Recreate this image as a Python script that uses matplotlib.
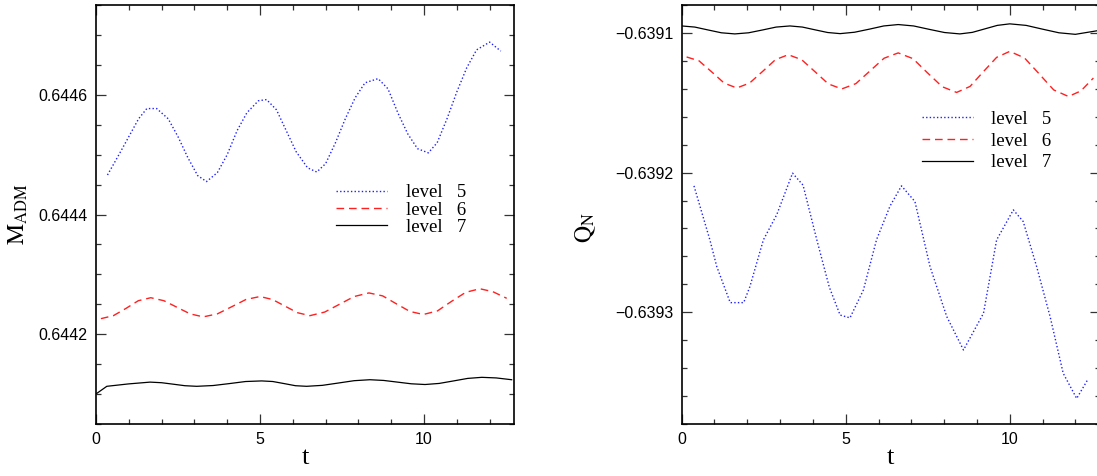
import numpy as np
import matplotlib
matplotlib.use('Agg')
import matplotlib.pyplot as plt
from matplotlib.ticker import MultipleLocator, FuncFormatter

# ---- data ----
# left panel: M_ADM vs t
t_m5 = [0.35, 0.7, 1.0, 1.3, 1.55, 1.85, 2.2, 2.5, 2.8, 3.1, 3.37, 3.7, 4.0, 4.3, 4.6,
        4.95, 5.2, 5.5, 5.8, 6.1, 6.45, 6.73, 7.0, 7.3, 7.6, 7.9, 8.2, 8.6, 8.9, 9.2,
        9.5, 9.8, 10.13, 10.4, 10.7, 11.0, 11.3, 11.6, 12.0, 12.34]
m5 = [0.644466, 0.644500, 0.644530, 0.644560, 0.644577, 0.644577, 0.644560, 0.644530,
      0.644495, 0.644465, 0.644455, 0.644470, 0.644500, 0.644540, 0.644570, 0.644590,
      0.644592, 0.644575, 0.644540, 0.644505, 0.644478, 0.644471, 0.644485, 0.644520,
      0.644560, 0.644595, 0.644620, 0.644627, 0.644610, 0.644570, 0.644535, 0.644510,
      0.644503, 0.644520, 0.644560, 0.644605, 0.644645, 0.644675, 0.644688, 0.644673]

t_m6 = [0.15, 0.53, 0.91, 1.29, 1.67, 2.07, 2.47, 2.87, 3.27, 3.70, 4.14, 4.57, 5.0,
        5.38, 5.76, 6.14, 6.52, 6.97, 7.42, 7.87, 8.32, 8.74, 9.15, 9.57, 9.98, 10.41,
        10.84, 11.27, 11.7, 12.1, 12.52]
m6 = [0.644226, 0.644231, 0.644243, 0.644256, 0.644261, 0.644256, 0.644245, 0.644234,
      0.644229, 0.644234, 0.644246, 0.644258, 0.644263, 0.644258, 0.644247, 0.644236,
      0.644231, 0.644237, 0.644250, 0.644263, 0.644269, 0.644264, 0.644251, 0.644238,
      0.644233, 0.644239, 0.644255, 0.644270, 0.644276, 0.644271, 0.644260]

t_m7 = [0.02, 0.33, 0.99, 1.65, 2.0, 2.36, 2.71, 3.07, 3.57, 4.06, 4.56, 5.05, 5.39,
        5.74, 6.08, 6.42, 6.9, 7.39, 7.87, 8.35, 8.77, 9.19, 9.61, 10.03, 10.46, 10.9,
        11.33, 11.76, 12.2, 12.67]
m7 = [0.644101, 0.644113, 0.644117, 0.644120, 0.644119, 0.6441165, 0.644114, 0.644113,
      0.6441143, 0.6441175, 0.644121, 0.644122, 0.644121, 0.6441175, 0.644114, 0.644113,
      0.6441146, 0.6441185, 0.6441224, 0.644124, 0.6441228, 0.644120, 0.6441172,
      0.644116, 0.6441178, 0.644122, 0.6441262, 0.644128, 0.644127, 0.644124]

# right panel: Q_N vs t
t_q5 = [0.375, 0.86, 1.07, 1.48, 1.89, 2.08, 2.49, 2.9, 3.38, 3.7, 4.12, 4.5, 4.83,
        5.13, 5.54, 5.94, 6.35, 6.7, 7.11, 7.57, 8.08, 8.59, 9.2, 9.6, 10.11, 10.41,
        10.82, 11.23, 11.63, 12.04, 12.37]
q5 = [-0.6392095, -0.6392482, -0.6392673, -0.6392931, -0.6392931, -0.6392816,
      -0.6392482, -0.6392300, -0.6392004, -0.6392090, -0.6392482, -0.6392820,
      -0.6393020, -0.6393040, -0.6392840, -0.6392480, -0.6392240, -0.6392095,
      -0.6392207, -0.6392673, -0.6393031, -0.6393270, -0.6393007, -0.6392482,
      -0.6392267, -0.6392350, -0.6392673, -0.6393031, -0.6393437, -0.6393617,
      -0.6393485]

t_q6 = [0.15, 0.53, 0.92, 1.3, 1.68, 2.07, 2.47, 2.86, 3.25, 3.66, 4.07, 4.47, 4.88,
        5.31, 5.74, 6.17, 6.6, 7.05, 7.49, 7.94, 8.38, 8.79, 9.19, 9.6, 10.0, 10.45,
        10.9, 11.34, 11.79, 12.17, 12.55]
q6 = [-0.6391172, -0.6391200, -0.6391280, -0.6391360, -0.6391394, -0.6391359,
      -0.6391275, -0.6391191, -0.6391156, -0.6391192, -0.6391279, -0.6391365,
      -0.6391401, -0.6391363, -0.6391272, -0.6391181, -0.6391143, -0.6391184,
      -0.6391285, -0.6391385, -0.6391426, -0.6391383, -0.6391279, -0.6391175,
      -0.6391132, -0.6391179, -0.6391294, -0.6391408, -0.6391455, -0.6391415,
      -0.6391323]

t_q7 = [0.0, 0.4, 0.81, 1.21, 1.62, 2.04, 2.46, 2.88, 3.3, 3.68, 4.07, 4.45, 4.83,
        5.27, 5.72, 6.16, 6.6, 7.07, 7.54, 8.01, 8.48, 8.86, 9.24, 9.62, 10.0, 10.5,
        11.0, 11.5, 12.0, 12.65]
q7 = [-0.6390950, -0.6390958, -0.6390979, -0.6390999, -0.6391007, -0.6390999,
      -0.6390979, -0.6390958, -0.6390950, -0.6390958, -0.6390978, -0.6390997,
      -0.6391005, -0.6390995, -0.6390973, -0.6390950, -0.6390940, -0.6390950,
      -0.6390974, -0.6390997, -0.6391007, -0.6390996, -0.6390971, -0.6390946,
      -0.6390935, -0.6390946, -0.6390973, -0.6390999, -0.6391010, -0.6390985]

labels = ['level   5', 'level   6', 'level   7']

# ---- styling ----
plt.rcParams['font.family'] = ['Liberation Sans', 'DejaVu Sans']
plt.rcParams['mathtext.fontset'] = 'stix'
serif = ['Liberation Serif', 'DejaVu Serif']

styles = [dict(color='#2020ff', lw=1.0, linestyle=(0, (1, 1.6))),
          dict(color='#ff2020', lw=1.0, linestyle=(0, (5.5, 3.5))),
          dict(color='black', lw=0.9, linestyle='-')]


def style_axes(ax, ymajor, yminor, yfmt):
    ax.set_xlim(0, 12.74)
    ax.xaxis.set_major_locator(MultipleLocator(5))
    ax.xaxis.set_minor_locator(MultipleLocator(1))
    ax.yaxis.set_major_locator(MultipleLocator(ymajor))
    ax.yaxis.set_minor_locator(MultipleLocator(yminor))
    ax.yaxis.set_major_formatter(FuncFormatter(lambda v, p: (yfmt % v).replace('-', '\u2212')))
    ax.tick_params(which='both', direction='in', top=True, right=True, width=0.9,
                   labelsize=11.5, color='#333333')
    ax.tick_params(which='major', length=7.5, pad=6)
    ax.tick_params(which='minor', length=3.5)
    for s in ax.spines.values():
        s.set_linewidth(1.2)
    ax.set_xlabel('t', fontsize=19, family=serif, labelpad=0)


fig = plt.figure(figsize=(10.97, 4.76), dpi=100)

# left: M_ADM
ax1 = fig.add_axes([0.0875, 0.1092, 0.381, 0.8803])
for tt, yy, lab, st in zip([t_m5, t_m6, t_m7], [m5, m6, m7], labels, styles):
    ax1.plot(tt, yy, label=lab, **st)
ax1.set_ylim(0.64405, 0.64475)
style_axes(ax1, 0.0002, 0.00005, '%.4f')
ax1.set_ylabel(r'$\mathrm{M_{ADM}}$', fontsize=17)
ax1.yaxis.set_label_coords(-0.158, 0.5)
ax1.legend(loc='upper left', bbox_to_anchor=(0.575, 0.572), frameon=False,
           prop={'family': serif, 'size': 13.5}, handlelength=2.7, handletextpad=1.0,
           labelspacing=0.0, borderpad=0, borderaxespad=0)

# right: Q_N
ax2 = fig.add_axes([0.6214, 0.1092, 0.381, 0.8803])
for tt, yy, lab, st in zip([t_q5, t_q6, t_q7], [q5, q6, q7], labels, styles):
    ax2.plot(tt, yy, label=lab, **st)
ax2.set_ylim(-0.63938, -0.63908)
style_axes(ax2, 0.0001, 0.00002, '%.4f')
ax2.set_ylabel(r'$\mathrm{Q_{N}}$', fontsize=17)
ax2.yaxis.set_label_coords(-0.2, 0.47)
ax2.legend(loc='upper left', bbox_to_anchor=(0.575, 0.748), frameon=False,
           prop={'family': serif, 'size': 13.5}, handlelength=2.7, handletextpad=1.0,
           labelspacing=0.25, borderpad=0, borderaxespad=0)

fig.savefig('out.png', dpi=100)
